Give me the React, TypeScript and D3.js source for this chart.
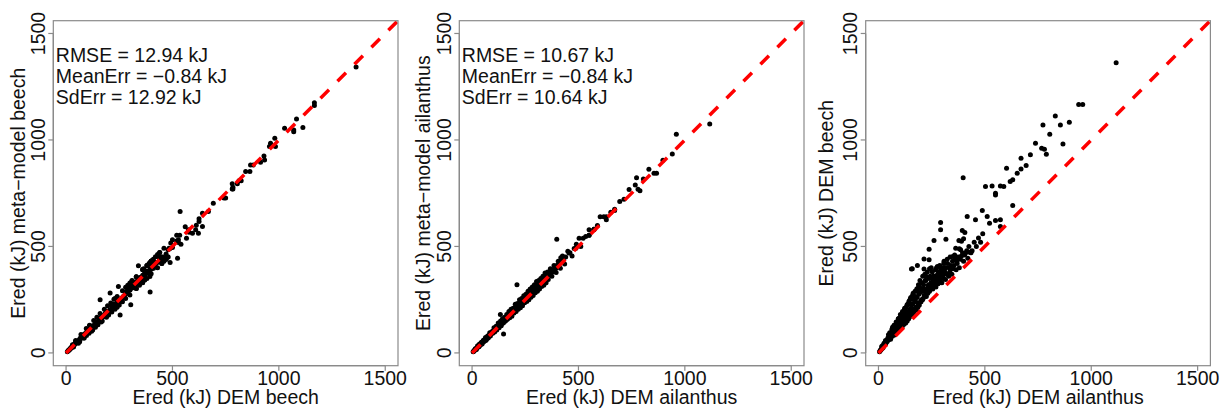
import React from "react";
import * as d3 from "d3";

// ---- data (kJ), one entry per simulated case ----
const demAilanthus = [
  1117, 960, 941, 897, 855, 831, 805, 773, 867, 738,
  767, 780, 789, 714, 670, 694, 670, 652, 602, 631,
  619, 573, 589, 503, 534, 550, 550, 631, 398, 417,
  456, 488, 511, 522, 550, 573, 573, 292, 292, 261,
  317, 238, 214, 238, 277, 308, 350, 378, 394, 406,
  363, 386, 428, 159, 183, 214, 155, 400, 390, 380,
  150, 185, 240, 170, 220, 125, 95, 148, 133, 211,
  5, 8, 10, 12, 15, 18, 20, 22, 25, 28,
  30, 32, 35, 38, 40, 42, 45, 48, 50, 52,
  55, 58, 60, 62, 65, 68, 70, 72, 75, 78,
  80, 82, 85, 88, 90, 92, 95, 98, 100, 102,
  105, 108, 110, 112, 115, 118, 120, 122, 125, 128,
  130, 132, 135, 138, 140, 142, 145, 150, 152, 155,
  158, 160, 162, 165, 168, 170, 172, 175, 178, 180,
  182, 185, 188, 190, 192, 195, 198, 200, 202, 205,
  208, 210, 212, 215, 218, 220, 222, 225, 228, 230,
  232, 235, 238, 240, 245, 248, 250, 255, 258, 260,
  265, 268, 270, 275, 278, 280, 285, 288, 290, 295,
  298, 300, 305, 310, 315, 320, 325, 330, 335, 340,
  345, 350, 360, 365, 370, 380, 390, 400, 410, 420,
  440, 460, 480,
  26, 33, 44, 47, 53, 57, 63, 66, 73, 76,
  83, 86, 93, 97, 103, 106, 113, 116, 123, 127,
  134, 137, 143, 147, 153, 157, 163, 167, 173, 177,
  183, 187, 193, 197, 203, 207, 213, 217, 223, 227,
  233, 237, 243, 247, 253, 257, 263, 267, 273, 277,
  283, 287, 293, 297, 303, 307, 313, 317, 323, 327,
  333, 337, 343, 348, 355, 358, 368, 375, 385, 395,
  405, 415, 425, 435, 450, 470, 490, 15, 20, 35,
];

const demBeech = [
  1363, 1167, 1167, 1083, 1070, 1113, 1027, 1070, 981, 984,
  961, 956, 933, 930, 914, 880, 864, 844, 867, 813,
  805, 784, 781, 781, 784, 750, 742, 692, 823, 641,
  625, 669, 641, 609, 622, 625, 594, 612, 578, 528,
  534, 487, 441, 437, 406, 430, 453, 528, 575, 566,
  492, 484, 473, 395, 411, 394, 394, 536, 524, 489,
  254, 304, 395, 246, 340, 207, 160, 205, 195, 290,
  6, 10, 14, 15, 20, 22, 28, 25, 35, 38,
  42, 40, 50, 52, 60, 55, 65, 62, 75, 68,
  80, 72, 90, 85, 78, 100, 95, 88, 110, 105,
  120, 98, 135, 115, 102, 150, 128, 112, 165, 140,
  118, 175, 150, 125, 185, 160, 135, 200, 170, 140,
  215, 180, 150, 230, 190, 160, 245, 175, 260, 215,
  180, 270, 230, 190, 250, 205, 290, 240, 200, 300,
  260, 215, 320, 275, 225, 340, 285, 240, 250, 300,
  360, 255, 320, 270, 370, 290, 340, 265, 300, 380,
  280, 320, 350, 290, 310, 400, 330, 300, 360, 320,
  345, 390, 310, 335, 370, 325, 350, 410, 340, 365,
  330, 380, 350, 400, 345, 370, 420, 360, 380, 410,
  370, 395, 440, 390, 420, 400, 455, 430, 470, 445,
  480, 500, 520,
  45, 58, 70, 85, 95, 64, 110, 120, 130, 84,
  145, 96, 160, 108, 180, 125, 195, 138, 210, 150,
  225, 165, 240, 170, 230, 190, 280, 200, 265, 215,
  290, 230, 310, 240, 330, 250, 300, 265, 360, 280,
  310, 300, 360, 330, 380, 345, 330, 360, 400, 360,
  380, 330, 390, 400, 365, 420, 380, 400, 440, 370,
  400, 450, 395, 430, 410, 460, 430, 450, 440, 470,
  460, 480, 500, 470, 520, 540, 560, 30, 35, 45,
];

const metaBeech = [
  1343, 1175, 1162, 1098, 1047, 1058, 1055, 1039, 1008, 969,
  984, 969, 906, 925, 895, 883, 852, 852, 883, 808,
  794, 778, 770, 794, 770, 727, 727, 703, 808, 656,
  617, 664, 594, 578, 562, 630, 562, 599, 567, 531,
  552, 489, 445, 430, 398, 453, 439, 519, 578, 539,
  516, 492, 453, 406, 398, 379, 359, 664, 445, 425,
  178, 226, 286, 312, 409, 281, 250, 200, 190, 280,
  6, 11, 13, 16, 19, 24, 27, 26, 33, 40,
  41, 42, 48, 55, 58, 53, 66, 60, 72, 70,
  82, 69, 88, 86, 80, 98, 92, 90, 112, 101,
  118, 100, 130, 119, 104, 146, 125, 115, 160, 143,
  120, 170, 148, 128, 188, 155, 132, 196, 173, 143,
  210, 176, 147, 225, 194, 165, 240, 170, 255, 220,
  178, 265, 226, 195, 245, 200, 300, 236, 195, 295,
  255, 220, 310, 270, 230, 335, 280, 235, 245, 305,
  355, 250, 315, 265, 365, 285, 345, 260, 296, 375,
  285, 318, 355, 295, 305, 395, 325, 305, 365, 315,
  340, 385, 315, 330, 375, 320, 345, 415, 335, 360,
  335, 385, 345, 395, 350, 365, 425, 355, 375, 415,
  372, 390, 445, 385, 415, 405, 450, 425, 465, 450,
  485, 495, 525,
  58, 46, 86, 70, 115, 52, 130, 102, 152, 70,
  168, 82, 185, 92, 205, 108, 222, 120, 235, 132,
  252, 145, 265, 150, 255, 168, 308, 178, 292, 192,
  318, 205, 340, 215, 358, 225, 328, 240, 390, 255,
  338, 272, 392, 302, 410, 318, 358, 332, 432, 330,
  410, 302, 420, 372, 395, 452, 350, 430, 472, 342,
  432, 420, 425, 400, 440, 430, 462, 420, 472, 440,
  492, 450, 532, 440, 552, 510, 592, 38, 28, 55,
];

const metaAilanthus = [
  1075, 1027, 934, 905, 844, 862, 817, 823, 844, 767,
  789, 769, 762, 722, 675, 711, 669, 660, 640, 625,
  640, 581, 598, 539, 547, 578, 553, 640, 534, 447,
  469, 492, 500, 539, 553, 578, 581, 300, 296, 270,
  330, 245, 220, 240, 290, 312, 355, 380, 398, 410,
  370, 386, 440, 165, 190, 218, 160, 410, 395, 385,
  155, 190, 248, 175, 225, 130, 100, 89, 180, 320,
  5, 8, 11, 12, 16, 17, 21, 23, 24, 29,
  31, 30, 36, 37, 42, 41, 46, 50, 49, 55,
  54, 60, 58, 64, 66, 70, 68, 74, 73, 80,
  83, 79, 84, 90, 92, 95, 93, 100, 104, 98,
  108, 110, 106, 115, 118, 120, 124, 125, 122, 130,
  134, 128, 140, 135, 143, 146, 150, 155, 148, 160,
  162, 165, 158, 170, 172, 166, 178, 180, 183, 184,
  176, 190, 195, 186, 198, 200, 205, 195, 208, 210,
  212, 215, 220, 211, 225, 228, 218, 230, 236, 234,
  240, 226, 245, 248, 250, 255, 258, 262, 250, 268,
  270, 275, 280, 282, 285, 290, 292, 296, 300, 305,
  308, 310, 315, 318, 325, 330, 335, 340, 345, 350,
  355, 360, 365, 372, 380, 390, 400, 410, 420, 432,
  450, 470, 490,
  34, 30, 50, 42, 60, 55, 72, 60, 80, 70,
  95, 80, 100, 92, 118, 98, 125, 108, 140, 118,
  150, 128, 160, 140, 168, 150, 180, 158, 195, 165,
  205, 172, 210, 188, 228, 195, 232, 205, 250, 212,
  255, 222, 268, 236, 275, 242, 290, 250, 300, 262,
  310, 270, 320, 282, 335, 290, 340, 300, 350, 312,
  360, 318, 375, 330, 380, 345, 395, 360, 410, 378,
  430, 398, 455, 418, 478, 455, 510, 20, 16, 42,
];

const tickValues = [0, 500, 1000, 1500];
const axisLimits = [0, 1500];

const xLabels = ["Ered (kJ) DEM beech", "Ered (kJ) DEM ailanthus", "Ered (kJ) DEM ailanthus"];
const yLabels = ["Ered (kJ) meta\u2212model beech", "Ered (kJ) meta\u2212model ailanthus", "Ered (kJ) DEM beech"];
const statsBeech = ["RMSE = 12.94 kJ", "MeanErr = \u22120.84 kJ", "SdErr = 12.92 kJ"];
const statsAilanthus = ["RMSE = 10.67 kJ", "MeanErr = \u22120.84 kJ", "SdErr = 10.64 kJ"];

// ---- layout ----
const W = 1223;
const H = 408;
const top = 20.7;
const bottom = 365.7;
const boxW = 344.7;
const FS = 19.5;
const FONT = "'Liberation Sans', Arial, Helvetica, sans-serif";

const panels = [
  { left: 53.3, xs: demBeech, ys: metaBeech, xlab: xLabels[0], ylab: yLabels[0], stats: statsBeech, ylabX: 25 },
  { left: 459.3, xs: demAilanthus, ys: metaAilanthus, xlab: xLabels[1], ylab: yLabels[1], stats: statsAilanthus, ylabX: 430 },
  { left: 865.7, xs: demAilanthus, ys: demBeech, xlab: xLabels[2], ylab: yLabels[2], stats: null, ylabX: 833 },
];

function Panel({ p, idx }: { p: any; idx: number }) {
  const ext = (axisLimits[1] - axisLimits[0]) * 0.04;
  const x = d3.scaleLinear().domain([axisLimits[0] - ext, axisLimits[1] + ext]).range([p.left, p.left + boxW]);
  const y = d3.scaleLinear().domain([axisLimits[0] - ext, axisLimits[1] + ext]).range([bottom, top]);
  const clipId = `clip${idx}`;
  const pts = p.xs.map((v: number, i: number) => [v, p.ys[i]]);
  const lineEnd = axisLimits[1] + ext;
  const textCol = "#111";
  const axisCol = "#8a8a8a";
  return (
    <g>
      <defs>
        <clipPath id={clipId}>
          <rect x={p.left} y={top} width={boxW} height={bottom - top} />
        </clipPath>
      </defs>
      <g clipPath={`url(#${clipId})`}>
        {pts.map((d: number[], i: number) => (
          <circle key={i} cx={x(d[0])} cy={y(d[1])} r={2.5} fill="#000" />
        ))}
        <line
          x1={x(0)}
          y1={y(0)}
          x2={x(lineEnd)}
          y2={y(lineEnd)}
          stroke="#ff0000"
          strokeWidth={3.5}
          strokeDasharray="12,12"
        />
      </g>
      <rect x={p.left} y={top} width={boxW} height={bottom - top} fill="none" stroke={axisCol} strokeWidth={1.2} />
      {/* x axis */}
      <line x1={x(axisLimits[0])} x2={x(axisLimits[1])} y1={bottom} y2={bottom} stroke={axisCol} strokeWidth={1.2} />
      {tickValues.map((t) => (
        <g key={"xt" + t}>
          <line x1={x(t)} x2={x(t)} y1={bottom} y2={bottom + 5} stroke={axisCol} strokeWidth={1.2} />
          <text x={x(t)} y={bottom + 19.5} textAnchor="middle" fontSize={FS} fontFamily={FONT} fill={textCol}>
            {t}
          </text>
        </g>
      ))}
      {/* y axis */}
      <line x1={p.left} x2={p.left} y1={y(axisLimits[0])} y2={y(axisLimits[1])} stroke={axisCol} strokeWidth={1.2} />
      {tickValues.map((t) => (
        <g key={"yt" + t}>
          <line x1={p.left - 5} x2={p.left} y1={y(t)} y2={y(t)} stroke={axisCol} strokeWidth={1.2} />
          <text
            transform={`translate(${p.left - 8.5},${y(t)}) rotate(-90)`}
            textAnchor="middle"
            fontSize={FS}
            fontFamily={FONT}
            fill={textCol}
          >
            {t}
          </text>
        </g>
      ))}
      <text x={(p.left + p.left + boxW) / 2} y={403.5} textAnchor="middle" fontSize={FS} fontFamily={FONT} fill={textCol}>
        {p.xlab}
      </text>
      <text
        transform={`translate(${p.ylabX},${(top + bottom) / 2}) rotate(-90)`}
        textAnchor="middle"
        fontSize={FS}
        fontFamily={FONT}
        fill={textCol}
      >
        {p.ylab}
      </text>
      {p.stats &&
        p.stats.map((s: string, i: number) => (
          <text key={s} x={p.left + 2.5} y={62 + i * 21.2} fontSize={FS} fontFamily={FONT} fill={textCol}>
            {s}
          </text>
        ))}
    </g>
  );
}

export default function App() {
  return (
    <svg
      width={W}
      height={H}
      viewBox={`0 0 ${W} ${H}`}
      style={{ position: "absolute", left: 0, top: 0, background: "#fff" }}
    >
      <rect x={0} y={0} width={W} height={H} fill="#fff" />
      {panels.map((p, i) => (
        <Panel key={i} p={p} idx={i} />
      ))}
    </svg>
  );
}
